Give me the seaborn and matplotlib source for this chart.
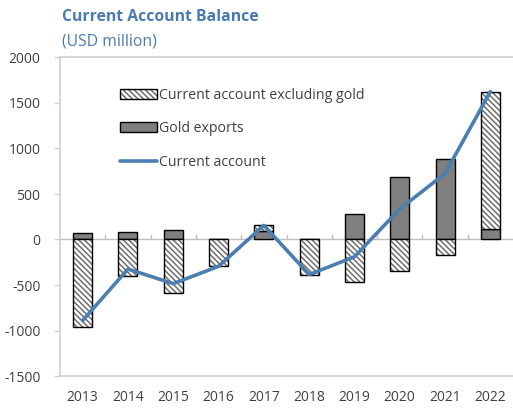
import matplotlib
matplotlib.use("Agg")
import matplotlib.pyplot as plt
from matplotlib.patches import Patch
from matplotlib.lines import Line2D
from matplotlib.legend_handler import HandlerTuple
import numpy as np
import pandas as pd
import seaborn as sns

years = ["2013", "2014", "2015", "2016", "2017", "2018", "2019", "2020", "2021", "2022"]
gold_exports = [70, 80, 100, 0, 90, 0, 275, 685, 890, 110]
ca_excl_gold = [-960, -405, -585, -295, 65, -385, -465, -350, -165, 1515]
current_account = [-890, -325, -485, -295, 155, -385, -190, 335, 725, 1625]

y_ticks = [-1500, -1000, -500, 0, 500, 1000, 1500, 2000]

BLUE = "#4a7fb0"
TITLE_BLUE = "#4a7bb0"
GOLD_GREY = "#7f7f7f"
HATCH_GREY = "#6e6e6e"
TEXT = "#404040"
AXIS_GREY = "#d0d0d0"
HATCH = "\\" * 6

sns.set_theme(style="white")
plt.rcParams["font.family"] = ["Open Sans", "DejaVu Sans"]
plt.rcParams["hatch.linewidth"] = 1.1

df = pd.DataFrame({
    "year": years,
    "gold": gold_exports,
    "excl": ca_excl_gold,
    "ca": current_account,
})
# positive "excluding gold" segments sit on top of the gold segment
excl_bottom = np.where(df["excl"] > 0, df["gold"], 0)

fig = plt.figure(figsize=(5.13, 4.11), dpi=100)
ax = fig.add_axes([60 / 513, 35 / 411, 453 / 513, 318.5 / 411])

bw = 0.42
# gold exports
sns.barplot(data=df, x="year", y="gold", color=GOLD_GREY, width=bw,
            edgecolor="black", linewidth=1.0, saturation=1, ax=ax, zorder=2)
# current account excluding gold: hatch layer, then outline layer
sns.barplot(data=df, x="year", y="excl", color="white", width=bw,
            edgecolor=HATCH_GREY, linewidth=0, hatch=HATCH, saturation=1,
            bottom=excl_bottom, ax=ax, zorder=2)
sns.barplot(data=df, x="year", y="excl", color="black", fill=False, width=bw,
            linewidth=1.0, saturation=1,
            bottom=excl_bottom, ax=ax, zorder=3)
# overall current account
sns.lineplot(data=df, x="year", y="ca", color=BLUE, linewidth=2.6,
             ax=ax, zorder=4, sort=False)

ax.set_xlim(-0.5, len(years) - 0.5)
ax.set_ylim(-1500, 2000)
ax.set_yticks(y_ticks)
ax.set_yticklabels([str(v) for v in y_ticks])
ax.set_xlabel("")
ax.set_ylabel("")

# zero line with small category separators
ax.axhline(0, color="#bfbfbf", linewidth=1.0, zorder=1)
for b in np.arange(0.5, len(years) - 1, 1.0):
    ax.plot([b, b], [0, 45], color="#bfbfbf", linewidth=1.0, zorder=1)

for side in ["top", "bottom", "left"]:
    ax.spines[side].set_visible(True)
    ax.spines[side].set_color(AXIS_GREY)
    ax.spines[side].set_linewidth(1.2)
ax.spines["right"].set_visible(False)

ax.tick_params(axis="y", which="both", left=True, length=4, width=1,
               color=AXIS_GREY, labelsize=10, labelcolor=TEXT, pad=10)
ax.tick_params(axis="x", bottom=False, length=0, labelsize=10, labelcolor=TEXT, pad=10)

hatch_key = (
    Patch(facecolor="white", edgecolor=HATCH_GREY, hatch=HATCH, linewidth=0),
    Patch(facecolor="none", edgecolor="black", linewidth=1.0),
)
handles = [
    hatch_key,
    Patch(facecolor=GOLD_GREY, edgecolor="black", linewidth=1.0),
    Line2D([0], [0], color=BLUE, linewidth=2.6),
]
labels = ["Current account excluding gold", "Gold exports", "Current account"]
leg = ax.legend(handles, labels, loc="upper left", bbox_to_anchor=(0.133, 0.905),
                frameon=False, fontsize=10.2, handlelength=2.6, handleheight=0.7,
                handletextpad=0.15, labelspacing=1.3, borderpad=0, borderaxespad=0,
                handler_map={tuple: HandlerTuple(ndivide=1, pad=0)})
for t in leg.get_texts():
    t.set_color(TEXT)

fig.text(62 / 513, 1 - 17 / 411, "Current Account Balance", color=TITLE_BLUE,
         fontsize=11.3, fontweight="bold", va="center", ha="left")
fig.text(62 / 513, 1 - 41 / 411, "(USD million)", color=TITLE_BLUE,
         fontsize=11.3, va="center", ha="left")

fig.savefig("out.png", dpi=100)
